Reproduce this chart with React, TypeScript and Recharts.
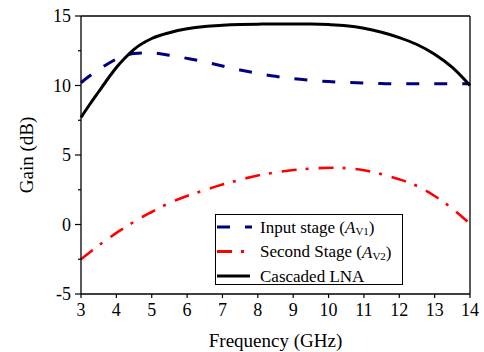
import { LineChart, Line, XAxis, YAxis, Legend, ReferenceLine, Label } from "recharts";

const freq = [3, 3.25, 3.5, 3.75, 4, 4.25, 4.5, 5, 5.5, 6, 6.5, 7, 7.5, 8, 8.5, 9, 9.5, 10, 10.5, 11, 11.5, 12, 12.5, 13, 13.5, 14];
const inputStage = [10.2, 10.7, 11.15, 11.55, 11.9, 12.15, 12.3, 12.35, 12.18, 11.95, 11.7, 11.4, 11.12, 10.87, 10.66, 10.5, 10.38, 10.28, 10.22, 10.17, 10.14, 10.12, 10.12, 10.12, 10.12, 10.12];
const secondStage = [-2.5, -2.0, -1.5, -1.05, -0.6, -0.2, 0.2, 0.9, 1.55, 2.05, 2.48, 2.87, 3.22, 3.53, 3.75, 3.92, 4.02, 4.08, 4.05, 3.9, 3.62, 3.25, 2.77, 2.05, 1.15, 0.05];
const cascaded = [7.7, 8.65, 9.55, 10.45, 11.3, 12.0, 12.6, 13.38, 13.8, 14.08, 14.25, 14.33, 14.38, 14.41, 14.43, 14.43, 14.42, 14.38, 14.3, 14.12, 13.83, 13.45, 12.95, 12.25, 11.3, 10.0];

const xTicks = [3, 4, 5, 6, 7, 8, 9, 10, 11, 12, 13, 14];
const yTicks = [-5, -2.5, 0, 2.5, 5, 7.5, 10, 12.5, 15];

const data = freq.map((f, i) => ({
  f,
  input: inputStage[i],
  second: secondStage[i],
  cascaded: cascaded[i],
}));

const FONT = "Liberation Serif";
const BLUE_DASH = "13 15";
const RED_DASH = "15 9 3 10";

function YTick({ x, y, payload }: any) {
  const major = payload.value % 5 === 0;
  return (
    <g>
      <line x1={x} y1={y} x2={x - (major ? 6 : 3)} y2={y} stroke="#000" strokeWidth={1.2} />
      {major && (
        <text x={x - 10} y={y} textAnchor="end" dominantBaseline="central" style={{ fontFamily: FONT, fontSize: 18 }} fill="#000">
          {payload.value}
        </text>
      )}
    </g>
  );
}

function XTick({ x, y, payload }: any) {
  return (
    <g>
      <line x1={x} y1={y} x2={x} y2={y + 4} stroke="#000" strokeWidth={1.2} />
      <text x={x} y={y + 22} textAnchor="middle" style={{ fontFamily: FONT, fontSize: 18 }} fill="#000">
        {payload.value}
      </text>
    </g>
  );
}

function LegendBox() {
  const rows = [
    { y: 13, color: "#000080", dash: BLUE_DASH, len: 35, label: "Input stage (", sub: "V1" },
    { y: 37.5, color: "#ff0000", dash: RED_DASH, len: 28, label: "Second Stage (", sub: "V2" },
    { y: 62, color: "#000", dash: undefined, len: 33, label: "Cascaded LNA", sub: null },
  ];
  return (
    <svg width={188} height={71} style={{ display: "block" }}>
      <rect x={0.5} y={0.5} width={187} height={70} fill="#fff" stroke="#000" strokeWidth={1} />
      {rows.map((r) => (
        <g key={r.label}>
          <line x1={2} y1={r.y} x2={2 + r.len} y2={r.y} stroke={r.color} strokeWidth={3} strokeDasharray={r.dash} />
          <text x={45} y={r.y} dominantBaseline="central" style={{ fontFamily: FONT, fontSize: 17 }} fill="#000">
            {r.label}
            {r.sub && (
              <>
                <tspan fontStyle="italic">A</tspan>
                <tspan fontSize={11} dy={4}>{r.sub}</tspan>
                <tspan dy={-4}>)</tspan>
              </>
            )}
          </text>
        </g>
      ))}
    </svg>
  );
}

export default function App() {
  return (
    <div style={{ position: "absolute", left: 0, top: 0, background: "#fff", fontFamily: FONT }}>
      <LineChart width={484} height={352} data={data} margin={{ top: 16, right: 14, bottom: 0, left: 0 }} style={{ fontFamily: FONT }}>
        <XAxis
          dataKey="f"
          type="number"
          domain={[3, 14]}
          ticks={xTicks}
          interval={0}
          height={58}
          tickSize={0}
          tickMargin={0}
          tickLine={false}
          tick={<XTick />}
          axisLine={{ stroke: "#000", strokeWidth: 1.3 }}
        >
          <Label
            content={({ viewBox }: any) => (
              <text x={viewBox.x + viewBox.width / 2} y={viewBox.y + 53} textAnchor="middle" style={{ fontFamily: FONT, fontSize: 19 }} fill="#000">
                Frequency (GHz)
              </text>
            )}
          />
        </XAxis>
        <YAxis
          type="number"
          domain={[-5, 15]}
          ticks={yTicks}
          interval={0}
          width={81}
          tickSize={0}
          tickMargin={0}
          tickLine={false}
          tick={<YTick />}
          axisLine={{ stroke: "#000", strokeWidth: 1.3 }}
        >
          <Label
            content={({ viewBox }: any) => {
              const cx = 26;
              const cy = viewBox.y + viewBox.height / 2;
              return (
                <text x={cx} y={cy} transform={`rotate(-90, ${cx}, ${cy})`} textAnchor="middle" dominantBaseline="central" style={{ fontFamily: FONT, fontSize: 19 }} fill="#000">
                  Gain (dB)
                </text>
              );
            }}
          />
        </YAxis>
        <ReferenceLine y={15} stroke="#000" strokeWidth={1.3} />
        <ReferenceLine x={14} stroke="#000" strokeWidth={1.3} />
        <Line type="monotone" dataKey="input" stroke="#000080" strokeWidth={3} strokeDasharray={BLUE_DASH} dot={false} isAnimationActive={false} />
        <Line type="monotone" dataKey="second" stroke="#ff0000" strokeWidth={2.6} strokeDasharray={RED_DASH} dot={false} isAnimationActive={false} />
        <Line type="monotone" dataKey="cascaded" stroke="#000" strokeWidth={3} dot={false} isAnimationActive={false} />
        <Legend
          layout="vertical"
          align="center"
          verticalAlign="middle"
          content={() => <LegendBox />}
          wrapperStyle={{ left: 215, top: 214, width: 188, height: 71 }}
        />
      </LineChart>
    </div>
  );
}
